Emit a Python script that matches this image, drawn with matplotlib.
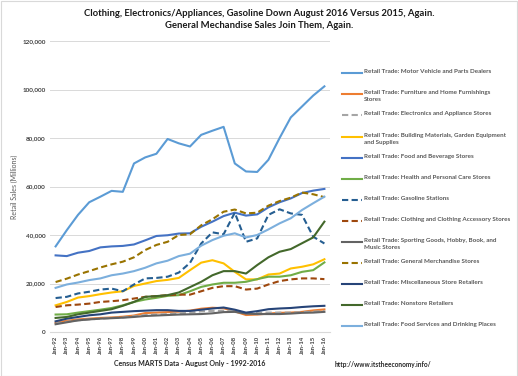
import matplotlib.pyplot as plt
from matplotlib.lines import Line2D
from matplotlib.patches import Rectangle
from matplotlib.ticker import FuncFormatter

plt.rcParams['font.family'] = ['Lato', 'DejaVu Sans']

years = [f"Jan-{y % 100:02d}" for y in range(1992, 2017)]

# values in millions (Aug of each year)
motor = [35.3, 42, 48.3, 53.5, 55.8, 58.2, 57.8, 69.5, 72, 73.5, 79.6, 77.8, 76.5,
         81.3, 83, 84.6, 69.5, 66.2, 66, 71, 80, 88.5, 93, 97.5, 101.3]
furniture = [3.8, 4.6, 5.2, 5.5, 5.8, 6, 6.3, 6.8, 7.8, 8, 8.2, 8.4, 8.8,
             9.6, 10, 9.8, 8.5, 7, 7.2, 7.6, 7.9, 8, 8.3, 8.9, 9.3]
electronics = [3.5, 4.2, 4.8, 5.2, 5.5, 5.8, 6, 6.5, 7, 7.2, 7.4, 7.7, 8,
               8.5, 8.7, 8.8, 8.6, 7.6, 8, 8, 8, 8, 8.2, 8.4, 8.6]
building = [11, 12.4, 14.2, 14.8, 15.6, 16.3, 16.8, 19, 20, 21, 21.5, 22.3, 25.5,
            28.6, 29.6, 28.3, 24.8, 21.7, 21.7, 23.7, 24.1, 26.2, 26.9, 27.9, 30]
foodbev = [31.6, 31.3, 32.7, 33.4, 34.9, 35.3, 35.5, 36.1, 37.8, 39.6, 39.9, 40.6, 40.7,
           43.4, 45.5, 47.8, 49.2, 48, 48.5, 51.4, 53.5, 55.1, 57.3, 58.3, 59]
health = [7.2, 7.3, 8, 8.6, 9.2, 9.9, 11, 12.4, 13.4, 14.1, 14.9, 15.2, 16.8,
          18.6, 19.6, 20.3, 20.3, 20.7, 21.8, 22.8, 22.8, 23.4, 24.8, 25.5, 28.7]
gas = [14, 14.5, 15.9, 16.6, 17.5, 17.9, 16.8, 19.6, 22.1, 22.3, 22.8, 24.5, 28.5,
       36.5, 41.1, 40.3, 49.2, 37.2, 38.6, 48.3, 50.6, 48.9, 48.3, 39.3, 36.5]
clothing = [10.3, 11, 11.3, 11.7, 12.4, 12.7, 13.1, 13.8, 14.5, 14.8, 15.2, 15.4, 15.4,
            16.8, 18.2, 18.9, 18.9, 17.5, 17.9, 19.6, 21, 21.7, 22.1, 22.1, 21.8]
sporting = [3.2, 4, 4.8, 5.2, 5.5, 5.7, 5.9, 6.2, 6.6, 6.8, 7, 7.2, 7.3,
            7.4, 7.7, 8.2, 8.3, 7.6, 7.4, 7.4, 7.4, 7.6, 7.9, 8, 8.3]
genmerch = [20.6, 22, 23.7, 25.1, 26.6, 27.9, 29, 30.8, 33.8, 35.9, 37.2, 40, 40.3,
            44, 46.5, 49.6, 50.5, 48.9, 49.2, 52.1, 54, 55.4, 57.5, 56.8, 55.6]
misc = [4.4, 5.5, 6.2, 6.9, 7.3, 8, 8.3, 8.6, 8.8, 9, 9, 8.7, 8.7,
        9.2, 9.7, 10.1, 9.2, 8, 8.6, 9.4, 9.7, 9.9, 10.3, 10.6, 10.8]
nonstore = [5.8, 6.2, 7.3, 8, 8.7, 9.4, 10.8, 12.4, 14.5, 14.8, 15.2, 16.3, 18.5,
            20.7, 23.4, 25.1, 25.1, 24.1, 27.6, 30.8, 33.1, 34.2, 36.6, 39, 45.5]
foodserv = [18.2, 19.6, 20.4, 21.4, 22.1, 23.4, 24.1, 25.1, 26.5, 28.3, 29.4, 31.3, 32.3,
            35.6, 37.9, 39.7, 40.7, 39, 40, 42.3, 44.8, 46.9, 50.3, 53.1, 55.8]

names = ["Retail Trade: Motor Vehicle and Parts Dealers",
         "Retail Trade: Furniture and Home Furnishings\nStores",
         "Retail Trade: Electronics and Appliance Stores",
         "Retail Trade: Building Materials, Garden Equipment\nand Supplies",
         "Retail Trade: Food and Beverage Stores",
         "Retail Trade: Health and Personal Care Stores",
         "Retail Trade: Gasoline Stations",
         "Retail Trade: Clothing and Clothing Accessory Stores",
         "Retail Trade: Sporting Goods, Hobby, Book, and\nMusic Stores",
         "Retail Trade: General Merchandise Stores",
         "Retail Trade: Miscellaneous Store Retailers",
         "Retail Trade: Nonstore Retailers",
         "Retail Trade: Food Services and Drinking Places"]
series = [motor, furniture, electronics, building, foodbev, health, gas,
          clothing, sporting, genmerch, misc, nonstore, foodserv]
colors = ['#5B9BD5', '#ED7D31', '#A5A5A5', '#FFC000', '#4472C4', '#70AD47',
          '#255E91', '#9E480E', '#636363', '#997300', '#264478', '#43682B', '#7CAFDD']
dashed = [False, False, True, False, False, False, True, True, False, True,
          False, False, False]

fig = plt.figure(figsize=(5.18, 3.76), dpi=100)
ax = fig.add_axes([50 / 518, 1 - 332 / 376, 280 / 518, 291 / 376])

x = list(range(len(years)))
dash = (0, (3, 1.6))
for vals, c, d in zip(series, colors, dashed):
    ax.plot(x, [v * 1000 for v in vals], color=c, lw=1.5,
            linestyle=dash if d else '-')

ax.set_xlim(-0.5, len(years) - 0.5)
ax.set_ylim(0, 120000)
ax.set_yticks(range(0, 120001, 20000))
ax.yaxis.set_major_formatter(FuncFormatter(lambda v, p: f"{int(v):,}"))
ax.set_xticks(x)
ax.set_xticklabels(years, rotation=90, fontsize=4.3, fontweight='bold', color='#404040')
for lab in ax.get_yticklabels():
    lab.set_fontsize(4.6)
    lab.set_fontweight('bold')
    lab.set_color('#404040')
ax.tick_params(length=0, pad=3)
ax.grid(axis='y', color='#D9D9D9', lw=0.7)
ax.set_axisbelow(True)
for s in ['top', 'right', 'left']:
    ax.spines[s].set_visible(False)
ax.spines['bottom'].set_color('#D9D9D9')

ax.set_ylabel('Retail Sales (Millions)', fontsize=5, color='#595959', labelpad=3)
ax.set_xlabel('Census MARTS Data - August Only - 1992-2016', fontsize=5,
              fontweight='bold', color='#262626', labelpad=4)

fig.text(259 / 518, 1 - 19.5 / 376,
         'Clothing, Electronics/Appliances, Gasoline Down August 2016 Versus 2015, Again.\n'
         'General Mechandise Sales Join Them, Again.',
         ha='center', va='center', fontsize=6.8, fontweight='bold', color='#1a1a1a',
         linespacing=1.35)
fig.text(335 / 518, 1 - 364 / 376, 'http://www.itstheeconomy.info/', fontsize=4.7,
         fontweight='bold', color='#262626', va='center')

# legend, drawn Excel-style (handle level with first text line)
for i, (name, c, d) in enumerate(zip(names, colors, dashed)):
    yp = 1 - (73.3 + 21.08 * i) / 376
    fig.add_artist(Line2D([342 / 518, 362 / 518], [yp, yp], color=c, lw=1.5,
                          linestyle=dash if d else '-'))
    fig.text(364 / 518, yp + 4 / 376, name, fontsize=4.5, fontweight='bold',
             color='#595959', va='top', ha='left', linespacing=1.5)

fig.add_artist(Rectangle((0.5 / 518, 0.5 / 376), 516.5 / 518, 374.5 / 376,
                         transform=fig.transFigure, fill=False,
                         edgecolor='#D9D9D9', lw=0.8))

fig.savefig('out.png', dpi=100)
